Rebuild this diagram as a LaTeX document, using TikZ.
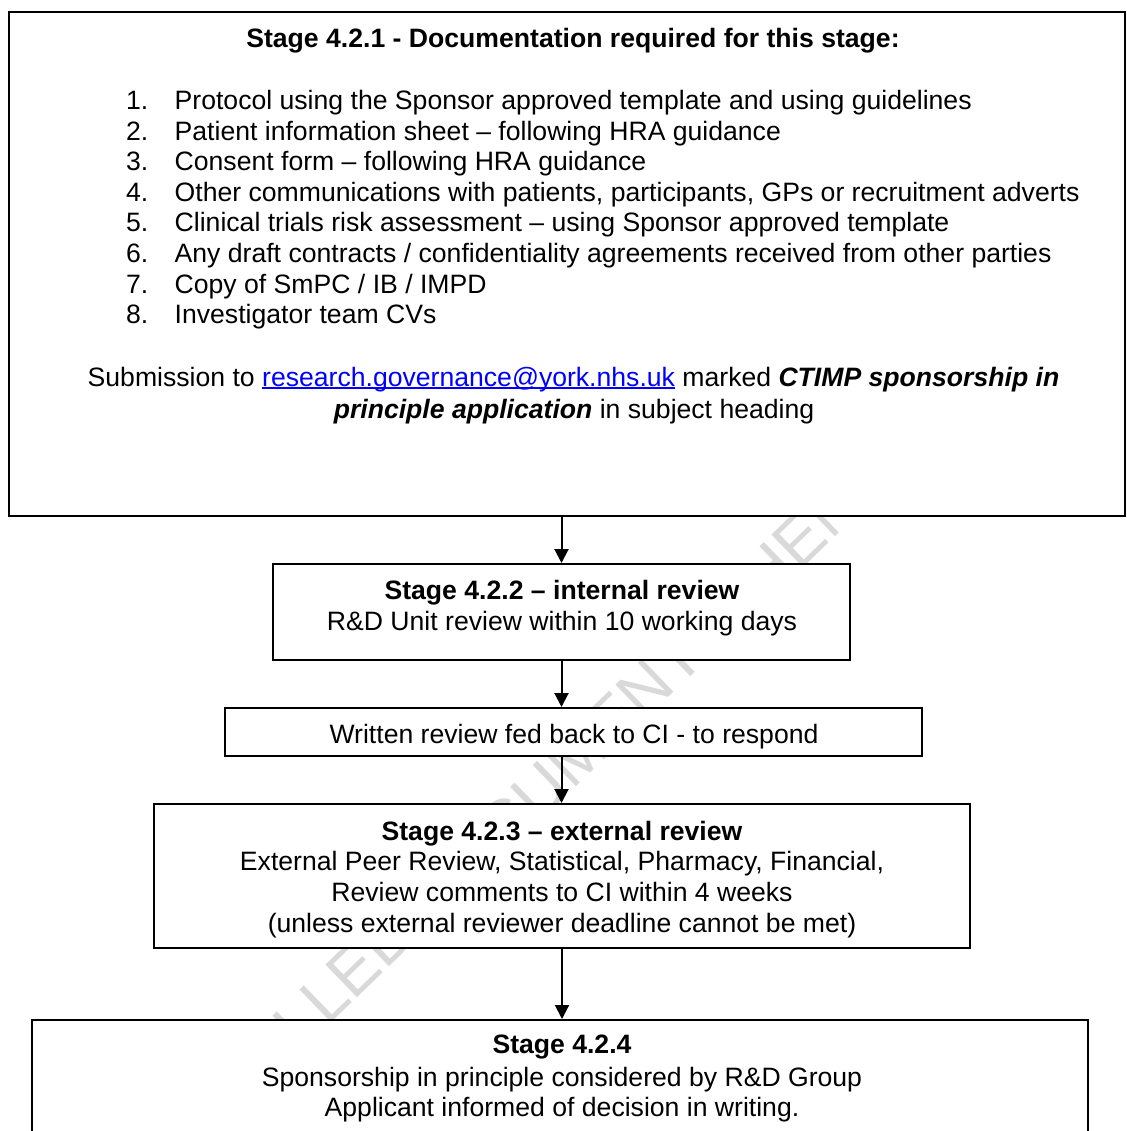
\documentclass[tikz,border=0pt]{standalone}
\usepackage{fontspec}
\setmainfont{Liberation Sans}
\usetikzlibrary{arrows.meta}
\definecolor{linkblue}{RGB}{0,0,255}
\definecolor{wmgray}{RGB}{217,217,217}
\newcommand\mylink[1]{\leavevmode\setbox0\hbox{#1}\rlap{\rule[-3pt]{\wd0}{1.8pt}}\box0}
\begin{document}
\begin{tikzpicture}[x=1pt,y=-1pt,
  font=\fontsize{26.6}{30.6}\selectfont,
  box/.style={draw, line width=2pt, fill=white, inner sep=0pt, rectangle},
  txt/.style={anchor=base, inner sep=0pt},
  ltxt/.style={anchor=base west, inner sep=0pt},
  arr/.style={line width=2pt, -{Triangle[length=14pt,width=14pt]}},
  wm/.style={rotate=44, text=wmgray, inner sep=0pt, font=\fontsize{66}{66}\selectfont}]
\useasboundingbox (0,0) rectangle (1126,1131);
\fill[white] (0,0) rectangle (1126,1131);
% watermark
\begin{scope}
\clip (0,0) rectangle (1126,1131);
\node[wm] (wmark) at (541,789) {UNCONTROLLED DOCUMENT WHEN PRINTED};
\end{scope}
% boxes
\node[box, minimum width=1116pt, minimum height=504pt] (b1) at (567,264) {};
\node[box, minimum width=577pt, minimum height=96pt] (b2) at (561.5,612) {};
\node[box, minimum width=697pt, minimum height=48pt] (b3) at (573.5,732) {};
\node[box, minimum width=816pt, minimum height=144pt] (b4) at (562,876) {};
\node[box, minimum width=1056pt, minimum height=150pt] (b5) at (560,1095) {};
% arrows
\draw[arr] (b1.south -| b2.south) -- (b2.north);
\draw[arr] (b2.south) -- (b2.south |- b3.north);
\draw[arr] (b2.south |- b3.south) -- (b2.south |- b4.north);
\draw[arr] (b4.south) -- (b4.south |- b5.north);
% top box text
\node[txt] (t0) at (573,48) {\bfseries Stage 4.2.1 - Documentation required for this stage:};
\node[ltxt] (n1) at (126,109.5) {1.};
\node[ltxt] (i1) at (174.5,109.5) {Protocol using the Sponsor approved template and using guidelines};
\node[ltxt] (n2) at (126,140.1) {2.};
\node[ltxt] (i2) at (174.5,140.1) {Patient information sheet – following HRA guidance};
\node[ltxt] (n3) at (126,170.7) {3.};
\node[ltxt] (i3) at (174.5,170.7) {Consent form – following HRA guidance};
\node[ltxt] (n4) at (126,201.3) {4.};
\node[ltxt] (i4) at (174.5,201.3) {Other communications with patients, participants, GPs or recruitment adverts};
\node[ltxt] (n5) at (126,231.9) {5.};
\node[ltxt] (i5) at (174.5,231.9) {Clinical trials risk assessment – using Sponsor approved template};
\node[ltxt] (n6) at (126,262.5) {6.};
\node[ltxt] (i6) at (174.5,262.5) {Any draft contracts / confidentiality agreements received from other parties};
\node[ltxt] (n7) at (126,293.1) {7.};
\node[ltxt] (i7) at (174.5,293.1) {Copy of SmPC / IB / IMPD};
\node[ltxt] (n8) at (126,323.7) {8.};
\node[ltxt] (i8) at (174.5,323.7) {Investigator team CVs};
\node[txt] (s1) at (573.5,386) {Submission to {\color{linkblue}\mylink{research.governance@york.nhs.uk}} marked \textbf{\textit{CTIMP sponsorship in}}};
\node[txt] (s2) at (574,418) {\textbf{\textit{principle application}} in subject heading};
% box 4.2.2
\node[txt] (b2a) at (562,599.5) {\bfseries Stage 4.2.2 – internal review};
\node[txt] (b2b) at (562,630.5) {R\&D Unit review within 10 working days};
% written review
\node[txt] (b3a) at (574,743.5) {Written review fed back to CI - to respond};
% box 4.2.3
\node[txt] (b4a) at (562,840) {\bfseries Stage 4.2.3 – external review};
\node[txt] (b4b) at (562,870.5) {External Peer Review, Statistical, Pharmacy, Financial,};
\node[txt] (b4c) at (562,901.5) {Review comments to CI within 4 weeks};
\node[txt] (b4d) at (562,932.5) {(unless external reviewer deadline cannot be met)};
% box 4.2.4
\node[txt] (b5a) at (562,1053) {\bfseries Stage 4.2.4};
\node[txt] (b5b) at (562,1086.5) {Sponsorship in principle considered by R\&D Group};
\node[txt] (b5c) at (562,1116.5) {Applicant informed of decision in writing.};
\end{tikzpicture}
\end{document}
